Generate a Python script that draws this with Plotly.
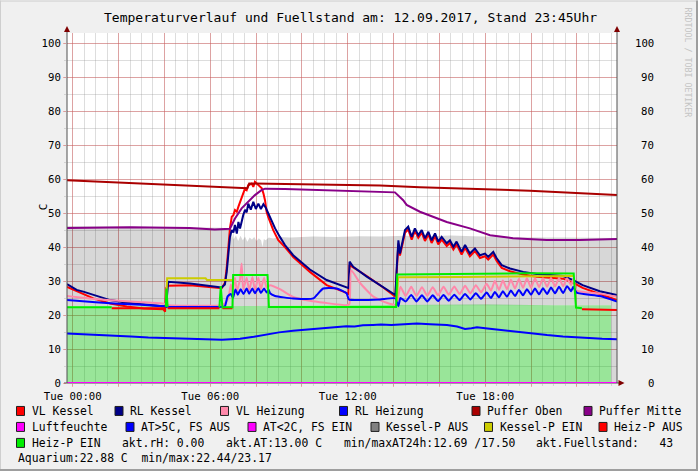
import plotly.graph_objects as go

# ---------------- data (time in hours relative to Tue 00:00) ----------------
x_range = [-0.25, 23.75]
grid_hours = [0, 2, 4, 6, 8, 10, 12, 14, 16, 18, 20, 22]
tick_labels = {0: "Tue 00:00", 6: "Tue 06:00", 12: "Tue 12:00", 18: "Tue 18:00"}
y_ticks = [0, 10, 20, 30, 40, 50, 60, 70, 80, 90, 100]

# Fuellstand (grey area)
fs_t = [-0.25, 2.0, 4.0, 5.5, 6.5, 6.86, 6.94, 7.02, 7.12, 7.22, 7.32, 7.42, 7.52, 7.62, 7.72, 7.82, 7.92,
        8.02, 8.12, 8.22, 8.28, 8.34, 8.42, 8.55, 8.75, 9.0, 9.5, 10.5, 11.5, 12.5, 13.5, 14.5, 15.5, 16.5,
        17.5, 18.5, 19.5, 20.5, 21.5, 22.5, 23.75]
fs_v = [46.2, 46.1, 46.0, 45.9, 45.7, 45.3, 43.5, 42.2, 43.4, 41.8, 43.3, 42.0, 43.1, 41.6, 42.8, 42.2, 43.0,
        41.8, 42.6, 42.0, 40.0, 42.4, 42.0, 42.8, 42.5, 43.0, 42.8, 43.1, 43.0, 43.2, 43.1, 43.3, 43.2, 43.4,
        43.2, 43.0, 42.9, 42.8, 42.8, 42.7, 42.7]

# Aquarium (green area)
aq_t = [-0.25, 3.0, 6.0, 9.0, 12.0, 15.0, 18.0, 21.0, 23.49]
aq_v = [22.5, 22.5, 22.5, 22.7, 22.9, 23.0, 23.1, 22.9, 22.9]

# VL Kessel
vk_t = [-0.25, 0.32, 0.90, 1.63, 2.36, 3.08, 3.95, 4.03, 4.08, 4.17, 5.12, 6.50, 6.64, 6.72, 6.79, 6.86, 6.94,
        7.01, 7.08, 7.16, 7.23, 7.37, 7.52, 7.59, 7.66, 7.81, 7.88, 7.95, 8.10, 8.25, 8.32, 8.39, 8.46, 8.53,
        8.75, 8.97, 9.26, 9.62, 10.35, 11.08, 11.81, 12.04, 12.08, 12.83, 13.55, 14.08, 14.14, 14.21, 14.28,
        14.36, 14.50, 14.64, 14.79, 14.93, 15.08, 15.23, 15.37, 15.52, 15.66, 15.81, 15.95, 16.10, 16.32,
        16.46, 16.61, 16.75, 16.97, 17.12, 17.33, 17.55, 17.77, 17.99, 18.13, 18.35, 18.50, 18.72, 19.08,
        19.66, 20.24, 20.83, 21.40, 21.84, 22.25, 23.00, 23.75]
vk_v = [28.3, 26.6, 24.9, 23.4, 22.5, 21.9, 21.7, 21.0, 28.0, 28.6, 28.8, 27.9, 29.5, 34.0, 41.0, 45.5, 48.9,
        49.4, 50.9, 50.4, 51.9, 54.3, 57.3, 56.8, 58.2, 58.7, 57.7, 59.2, 58.2, 57.3, 55.8, 53.8, 50.4, 48.9,
        45.0, 42.0, 40.0, 37.1, 32.7, 28.8, 26.9, 26.2, 34.7, 31.5, 28.1, 25.4, 33.0, 41.0, 37.5,
        40.0, 44.2, 45.2, 42.2, 44.7, 42.7, 44.2, 41.8, 43.7, 41.2, 43.2, 40.8, 42.2, 40.3,
        41.2, 39.3, 40.8, 37.8, 39.8, 37.3, 38.8, 36.8, 37.3, 36.3, 37.8, 35.9, 33.9, 32.9,
        31.9, 31.3, 31.0, 30.7, 29.5, 28.0, 26.2, 24.4]

# RL Kessel
rk_t = [-0.25, 0.17, 0.46, 0.90, 1.63, 2.36, 3.08, 3.95, 4.07, 4.17, 5.12, 6.50, 6.64, 6.72, 6.79, 6.86, 6.94,
        7.01, 7.08, 7.16, 7.23, 7.30, 7.44, 7.52, 7.59, 7.66, 7.77, 7.88, 7.99, 8.10, 8.21, 8.32, 8.43, 8.53,
        8.61, 8.83, 9.04, 9.26, 9.62, 10.35, 11.08, 11.81, 12.04, 12.08, 12.24, 12.83, 13.55, 14.08, 14.14,
        14.21, 14.28, 14.36, 14.50, 14.64, 14.79, 14.93, 15.08, 15.23, 15.37, 15.52, 15.66, 15.81, 15.95,
        16.10, 16.32, 16.46, 16.61, 16.75, 16.97, 17.12, 17.33, 17.55, 17.77, 17.99, 18.13, 18.35, 18.50,
        18.72, 19.08, 19.66, 20.24, 20.83, 21.40, 21.84, 22.25, 23.00, 23.75]
rk_v = [29.1, 27.4, 26.9, 25.9, 24.4, 23.6, 23.1, 22.6, 22.5, 29.8, 29.3, 28.1, 29.0, 32.7, 38.6, 43.0, 45.0,
        44.3, 46.5, 44.0, 47.4, 45.5, 49.4, 51.0, 50.2, 52.8, 51.0, 53.3, 51.2, 52.8, 51.2, 52.6, 51.5, 50.0,
        48.4, 45.5, 43.0, 40.6, 37.6, 33.4, 30.3, 28.3, 27.9, 35.7, 34.2, 31.3, 28.3, 25.9, 34.0,
        42.0, 38.1, 41.0, 45.0, 46.0, 43.0, 45.5, 43.5, 45.0, 42.6, 44.5, 42.0, 44.0, 41.6,
        43.0, 41.1, 42.0, 40.1, 41.6, 38.6, 40.6, 38.1, 39.6, 37.6, 38.1, 37.1, 38.6, 36.7,
        34.7, 33.7, 32.7, 32.1, 31.8, 31.5, 30.3, 28.8, 27.0, 25.9]

# VL Heizung
vh_t = [-0.25, 1.0, 2.0, 3.0, 3.9, 4.07, 4.20, 6.50, 6.64, 6.79, 6.90, 6.97, 7.08, 7.16, 7.30, 7.37, 7.44,
        7.59, 7.70, 7.84, 7.95, 8.10, 8.21, 8.35, 8.46, 8.61, 9.04, 9.62, 10.35, 11.0, 11.95, 12.07, 12.15,
        12.53, 13.12, 13.70, 14.08, 14.18, 14.30, 14.53, 14.77, 15.00, 15.24, 15.47, 15.71, 15.94, 16.18,
        16.41, 16.65, 16.88, 17.12, 17.35, 17.59, 17.82, 18.06, 18.25, 18.42, 18.60, 18.77, 18.95, 19.12,
        19.30, 19.47, 19.65, 19.82, 20.00, 20.17, 20.35, 20.52, 20.70, 20.87, 21.05, 21.22, 21.40, 21.57,
        21.75, 21.84, 21.99, 23.00, 23.75]
vh_v = [25.6, 24.7, 24.2, 23.8, 23.4, 23.2, 22.9, 22.9, 23.5, 25.0, 29.0, 26.5, 31.0, 27.0, 30.5, 35.2, 27.5,
        31.0, 27.2, 31.2, 27.4, 31.0, 27.6, 31.0, 28.0, 28.8, 27.6, 25.3, 24.2, 23.6, 22.9, 23.2, 33.2,
        29.5, 25.4, 23.6, 23.0, 24.5, 28.3, 25.6, 28.3, 25.6, 28.2, 25.7, 28.2, 25.8, 28.3,
        26.0, 28.4, 26.2, 28.6, 26.4, 28.8, 26.7, 29.2, 27.2, 30.0, 27.4, 30.2, 27.6, 30.4,
        27.8, 30.6, 28.0, 30.8, 28.0, 30.8, 28.2, 30.8, 28.3, 30.9, 28.4, 30.9, 28.5, 30.8,
        28.8, 30.5, 27.2, 26.3, 25.4]

# RL Heizung
rh_t = [-0.25, 1.0, 2.0, 3.0, 3.95, 4.07, 4.20, 6.50, 6.64, 6.76, 6.90, 6.99, 7.10, 7.20, 7.33, 7.45, 7.59,
        7.70, 7.84, 7.95, 8.10, 8.21, 8.35, 8.46, 8.55, 8.61, 8.83, 9.62, 10.50, 10.65, 10.93, 11.52, 11.95,
        12.05, 12.53, 13.41, 14.08, 14.21, 14.30, 14.53, 14.77, 15.00, 15.24, 15.47, 15.71, 15.94, 16.18,
        16.41, 16.65, 16.88, 17.12, 17.35, 17.59, 17.82, 18.06, 18.25, 18.42, 18.60, 18.77, 18.95, 19.12,
        19.30, 19.47, 19.65, 19.82, 20.00, 20.17, 20.35, 20.52, 20.70, 20.87, 21.05, 21.22, 21.40, 21.57,
        21.75, 21.84, 21.99, 23.00, 23.75]
rh_v = [24.4, 23.8, 23.3, 23.0, 22.6, 22.5, 22.4, 22.4, 22.6, 25.5, 26.2, 25.0, 27.5, 26.0, 27.6, 26.2, 27.8,
        26.3, 27.8, 26.4, 27.9, 26.5, 27.8, 26.6, 27.4, 26.4, 25.6, 24.9, 24.9, 25.9, 27.8, 27.8, 26.4,
        24.6, 24.4, 24.6, 24.9, 22.6, 25.0, 24.0, 25.9, 24.0, 25.8, 24.0, 25.8, 24.1, 25.9,
        24.2, 26.0, 24.4, 26.2, 24.6, 26.4, 24.8, 26.6, 25.0, 26.8, 25.2, 27.0, 25.4, 27.2,
        25.6, 27.4, 25.8, 27.6, 26.0, 27.8, 26.1, 27.9, 26.2, 28.1, 26.4, 28.3, 26.5, 28.5,
        27.0, 28.3, 26.6, 25.6, 24.0]

# Puffer Oben
po_t = [-0.25, 7.62, 7.70, 13.41, 15.15, 19.95, 23.75]
po_v = [59.7, 57.3, 58.7, 58.1, 57.6, 56.6, 55.3]

# Puffer Mitte
pm_t = [-0.25, 2.5, 5.1, 6.2, 6.86, 7.08, 7.37, 7.66, 7.95, 8.25, 8.39, 9.26, 11.0, 13.41, 14.06, 14.42,
        14.57, 15.15, 16.32, 17.33, 18.21, 19.21, 20.68, 22.13, 23.75]
pm_v = [45.6, 45.8, 45.6, 45.2, 45.4, 48.4, 51.4, 53.3, 55.3, 56.8, 57.2, 57.1, 56.8, 56.3, 56.1, 53.8,
        52.4, 50.4, 47.4, 45.5, 43.5, 42.6, 42.1, 42.1, 42.4]

# Luftfeuchte
lf_t = [-0.25, 23.75]
lf_v = [0.0, 0.0]

# Aussentemperatur (AT>5C)
at_t = [-0.25, 0.5, 1.02, 1.8, 2.54, 3.3, 4.11, 4.9, 5.69, 6.1, 6.51, 6.9, 7.30, 7.9, 8.48, 9.0, 9.61, 10.35,
        10.9, 11.36, 11.94, 12.3, 12.66, 13.1, 13.45, 13.9, 14.28, 15.02, 15.6, 16.33, 16.77, 17.12, 17.40,
        17.64, 18.0, 18.51, 19.2, 19.95, 20.7, 21.39, 22.0, 22.43, 23.1, 23.75]
at_v = [14.6, 14.4, 14.3, 14.0, 13.7, 13.4, 13.2, 13.1, 13.0, 12.8, 12.7, 12.9, 13.0, 13.6, 14.3, 14.9, 15.4, 15.8,
        16.2, 16.5, 16.7, 16.6, 17.0, 17.1, 17.2, 17.1, 17.3, 17.5, 17.3, 17.1, 16.6, 15.9, 16.1,
        16.4, 16.1, 15.7, 15.2, 14.6, 14.1, 13.7, 13.4, 13.2, 13.0, 12.9]

# Kessel-P EIN
kpe_t = [4.08, 4.12, 5.80, 5.86, 6.97, None, 14.14, 14.20, 17.0, 20.0, 21.84]
kpe_v = [24.9, 30.8, 30.8, 30.3, 30.3, None, 24.0, 31.1, 31.2, 31.4, 31.5]

# Heiz-P AUS
hpa_t = [1.70, 4.06, None, 4.14, 6.40, None, 6.53, 6.97, None, 22.22, 23.75]
hpa_v = [22.0, 22.0, None, 22.0, 22.0, None, 22.0, 22.0, None, 21.7, 21.5]

# Heiz-P EIN
hpe_t = [-0.25, 1.70, None, 4.06, 4.09, 4.14, None, 6.40, 6.46, 6.53, 6.97, 7.00, 8.50, 8.56, 14.11, 14.16,
         17.0, 20.0, 21.86, 21.96, 22.22]
hpe_v = [22.3, 22.3, None, 22.4, 27.8, 22.4, None, 22.3, 28.5, 22.3, 22.3, 31.8, 31.8, 22.4, 22.4, 31.9,
         32.1, 32.3, 32.2, 22.2, 22.0]

for a, b in [(fs_t, fs_v), (aq_t, aq_v), (vk_t, vk_v), (rk_t, rk_v), (vh_t, vh_v), (rh_t, rh_v),
             (po_t, po_v), (pm_t, pm_v), (at_t, at_v), (kpe_t, kpe_v), (hpa_t, hpa_v), (hpe_t, hpe_v)]:
    assert len(a) == len(b), (len(a), len(b))

title_text = "Temperaturverlauf und Fuellstand am: 12.09.2017, Stand 23:45Uhr"
legend_rows = [
    [("VL Kessel", "#FF0000"), ("RL Kessel", "#000088"), ("VL Heizung", "#FF88AA"),
     ("RL Heizung", "#0000FF"), ("Puffer Oben", "#AA0000"), ("Puffer Mitte", "#880088")],
    [("Luftfeuchte", "#FF00FF"), ("AT>5C, FS AUS", "#0000FF"), ("AT<2C, FS EIN", "#FF00FF"),
     ("Kessel-P AUS", "#808080"), ("Kessel-P EIN", "#CCCC00"), ("Heiz-P AUS", "#FF0000")],
    [("Heiz-P EIN", "#00EE00")],
]
info_texts = ["akt.rH: 0.00", "akt.AT:13.00 C", "min/maxAT24h:12.69 /17.50", "akt.Fuellstand:   43"]
aquarium_text = "Aquarium:22.88 C  min/max:22.44/23.17"

# ---------------- layout helpers ----------------
W, H = 698, 471
L, R, T, B = 67, 617, 32.5, 383
MONO = "DejaVu Sans Mono"


def px(x):
    return (x - L) / (R - L)


def py(y):
    return (B - y) / (B - T)


def nb(s):
    return s.replace(" ", "\u00a0")


fig = go.Figure()

# grey area (Fuellstand) as polygon between aquarium and fill level
poly_x = fs_t + [fs_t[-1], aq_t[-1], aq_t[-1]] + aq_t[::-1]
poly_y = fs_v + [0, 0, aq_v[-1]] + aq_v[::-1]
fig.add_trace(go.Scatter(x=poly_x, y=poly_y, mode="lines", fill="toself",
                         fillcolor="rgba(0,0,0,0.155)", line=dict(width=0), hoverinfo="skip"))
fig.add_trace(go.Scatter(x=aq_t, y=aq_v, mode="lines", fill="tozeroy",
                         fillcolor="rgba(0,190,0,0.40)", line=dict(width=0), hoverinfo="skip"))


def add_line(t, v, color, width=2, smooth=False):
    line = dict(color=color, width=width)
    if smooth:
        line.update(shape="spline", smoothing=0.5)
    fig.add_trace(go.Scatter(x=t, y=v, mode="lines", line=line,
                             connectgaps=False, cliponaxis=False, hoverinfo="skip"))


add_line(vk_t, vk_v, "#FF0000")
add_line(rk_t, rk_v, "#000088")
add_line(vh_t, vh_v, "#FF88AA", smooth=True)
add_line(rh_t, rh_v, "#0000FF", smooth=True)
add_line(po_t, po_v, "#AA0000")
add_line(pm_t, pm_v, "#880088")
add_line(lf_t, lf_v, "#FF00FF")
add_line(at_t, at_v, "#0000FF")
add_line(kpe_t, kpe_v, "#CCCC00")
add_line(hpa_t, hpa_v, "#FF0000")
add_line(hpe_t, hpe_v, "#00EE00")

MAJ = "rgba(222,80,80,0.42)"
MIN = "rgba(143,143,143,0.30)"

fig.update_layout(
    width=W, height=H,
    margin=dict(l=L, r=W - R, t=T, b=H - B, pad=0),
    paper_bgcolor="#F0F0F0", plot_bgcolor="#FFFFFF",
    showlegend=False,
    font=dict(family=MONO, color="#000000"),
    xaxis=dict(range=x_range, tickmode="array", tickvals=grid_hours,
               ticktext=[tick_labels.get(h, "") for h in grid_hours],
               showgrid=True, gridcolor=MAJ, gridwidth=1, zeroline=False, showline=False,
               ticks="outside", ticklen=3, tickcolor=MAJ,
               tickfont=dict(family=MONO, size=10.7, color="#000000"),
               minor=dict(tickmode="linear", tick0=0, dtick=0.5, showgrid=True, gridcolor=MIN,
                          ticks="outside", ticklen=2, tickcolor=MIN),
               fixedrange=True),
    yaxis=dict(range=[0, 103], tickmode="array", tickvals=y_ticks,
               showgrid=True, gridcolor=MAJ, gridwidth=1, zeroline=False, showline=False,
               ticks="outside", ticklen=3, tickcolor=MAJ,
               tickfont=dict(family=MONO, size=10.7, color="#000000"),
               minor=dict(tickmode="linear", tick0=0, dtick=5, showgrid=True, gridcolor=MIN,
                          ticks="outside", ticklen=2, tickcolor=MIN),
               fixedrange=True),
)

shapes = []
AX = "#505050"
ARROW = "#7F0000"
# axis lines
shapes.append(dict(type="line", xref="paper", yref="paper", x0=px(L), x1=px(L), y0=py(B), y1=py(30),
                   line=dict(color=AX, width=1)))
shapes.append(dict(type="line", xref="paper", yref="paper", x0=px(R), x1=px(R), y0=py(B), y1=py(30),
                   line=dict(color=AX, width=1)))
shapes.append(dict(type="line", xref="paper", yref="paper", x0=px(64), x1=px(620), y0=py(B), y1=py(B),
                   line=dict(color=AX, width=1), layer="below"))
# arrows
for ax in (L, R):
    shapes.append(dict(type="path", xref="paper", yref="paper",
                       path=f"M {px(ax-3)},{py(31.5)} L {px(ax+3)},{py(31.5)} L {px(ax)},{py(25.5)} Z",
                       fillcolor=ARROW, line=dict(width=0)))
shapes.append(dict(type="path", xref="paper", yref="paper",
                   path=f"M {px(618.5)},{py(380)} L {px(618.5)},{py(386)} L {px(624.5)},{py(383)} Z",
                   fillcolor=ARROW, line=dict(width=0)))
# frame (3D border)
shapes.append(dict(type="line", xref="paper", yref="paper", x0=px(0), x1=px(W), y0=py(0.5), y1=py(0.5),
                   line=dict(color="#CFCFCF", width=1)))
shapes.append(dict(type="line", xref="paper", yref="paper", x0=px(0.5), x1=px(0.5), y0=py(0), y1=py(H),
                   line=dict(color="#CFCFCF", width=1)))
shapes.append(dict(type="line", xref="paper", yref="paper", x0=px(W - 1), x1=px(W - 1), y0=py(0), y1=py(H),
                   line=dict(color="#9E9E9E", width=2)))
shapes.append(dict(type="line", xref="paper", yref="paper", x0=px(0), x1=px(W), y0=py(H - 1), y1=py(H - 1),
                   line=dict(color="#9E9E9E", width=2)))

annotations = []
# title
annotations.append(dict(text=nb(title_text), xref="paper", yref="paper", x=px(350), y=py(17),
                        xanchor="center", yanchor="middle", showarrow=False,
                        font=dict(family=MONO, size=13, color="#000000")))
# watermark
annotations.append(dict(text=nb("RRDTOOL / TOBI OETIKER"), xref="paper", yref="paper", x=px(688), y=py(62),
                        xanchor="center", yanchor="middle", showarrow=False, textangle=90,
                        font=dict(family=MONO, size=8.3, color="#C4C4C4")))
# y axis title
annotations.append(dict(text="C", xref="paper", yref="paper", x=px(43), y=py(207), textangle=-90,
                        xanchor="center", yanchor="middle", showarrow=False,
                        font=dict(family=MONO, size=11, color="#000000")))
# right axis labels
for v in y_ticks:
    annotations.append(dict(text=str(v), xref="paper", yref="y", x=px(655.5), y=v, xanchor="right",
                            yanchor="middle", showarrow=False,
                            font=dict(family=MONO, size=10.7, color="#000000")))

# legend
row_y = [411, 427, 443, 458]
row_box_x = [[16.5, 115, 220.5, 339.5, 472, 584],
             [16.5, 126, 248, 371, 484.5, 599],
             [16.5]]
LEG_FS = 11.4
for r, row in enumerate(legend_rows):
    yc = row_y[r]
    for (label, color), bx in zip(row, row_box_x[r]):
        shapes.append(dict(type="rect", xref="paper", yref="paper", x0=px(bx), x1=px(bx + 8),
                           y0=py(yc - 4.5), y1=py(yc + 4.5), fillcolor=color,
                           line=dict(color="#202020", width=1)))
        annotations.append(dict(text=nb(label), xref="paper", yref="paper", x=px(bx + 13), y=py(yc),
                                xanchor="left", yanchor="middle", showarrow=False,
                                font=dict(family=MONO, size=LEG_FS, color="#000000")))
info_x = [120, 224, 342, 533.5]
for txt, tx in zip(info_texts, info_x):
    annotations.append(dict(text=nb(txt), xref="paper", yref="paper", x=px(tx), y=py(row_y[2]),
                            xanchor="left", yanchor="middle", showarrow=False,
                            font=dict(family=MONO, size=LEG_FS, color="#000000")))
annotations.append(dict(text=nb(aquarium_text), xref="paper", yref="paper", x=px(15.5), y=py(row_y[3]),
                        xanchor="left", yanchor="middle", showarrow=False,
                        font=dict(family=MONO, size=LEG_FS, color="#000000")))

fig.update_layout(shapes=shapes, annotations=annotations)
fig.write_html("out.html", config={"displayModeBar": False, "staticPlot": True},
               post_script="document.body.style.margin='0';document.body.style.overflow='hidden';")
